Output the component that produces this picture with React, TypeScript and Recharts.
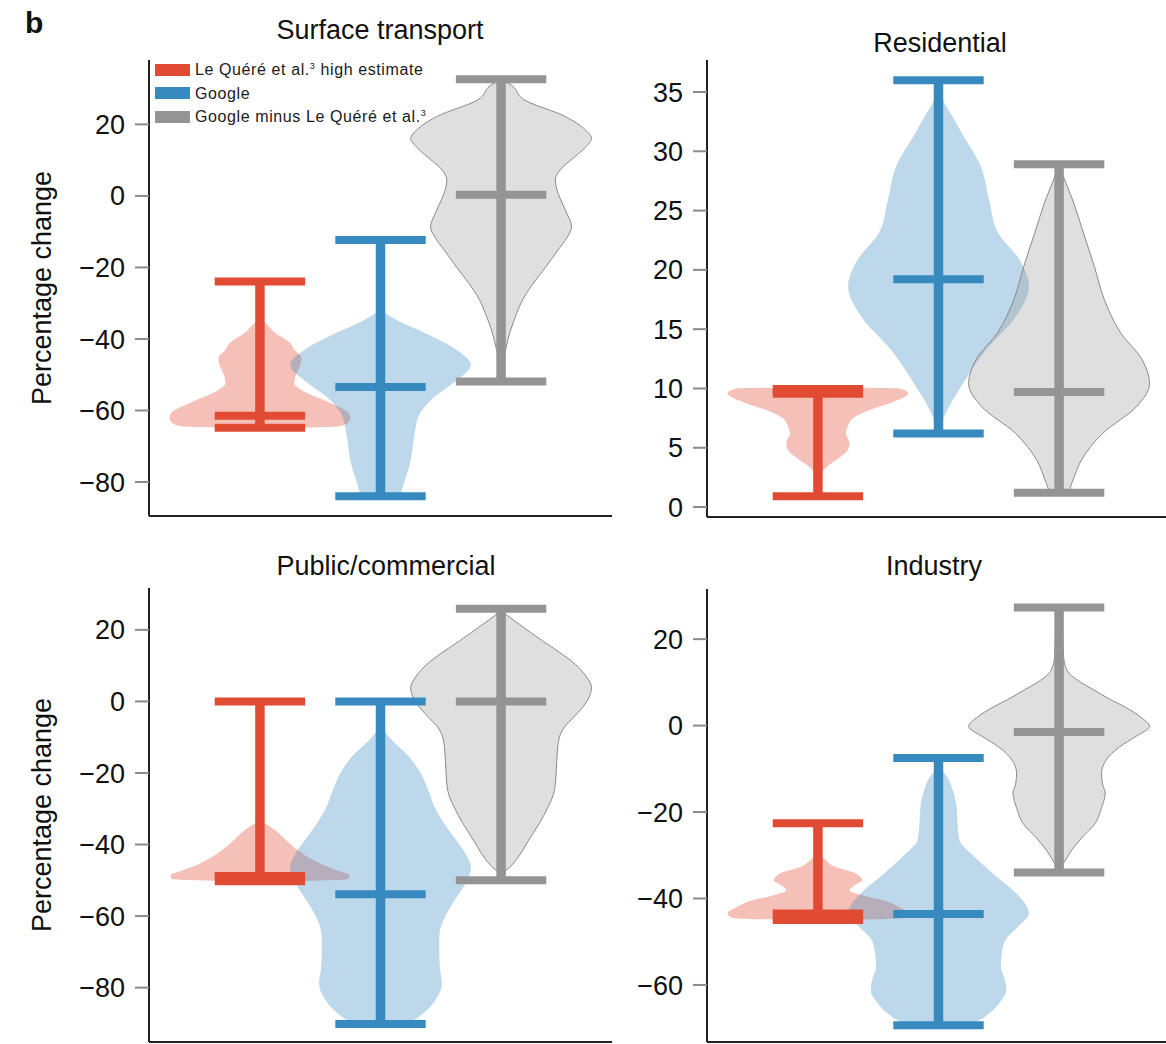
import { ComposedChart, Area, XAxis, YAxis, ReferenceLine } from "recharts"

const FONT = '"Liberation Sans", Arial, Helvetica, sans-serif'

const panelTitles = ["Surface transport", "Residential", "Public/commercial", "Industry"]
const legendLabels = ["Le Quéré et al.", "Google", "Google minus Le Quéré et al."]

const COLORS = ["#e14b34", "#378abf", "#949494"]
const FILL_OPACITY = [0.35, 0.33, 0.3]

const surfaceTicks = [-80, -60, -40, -20, 0, 20]
const residentialTicks = [0, 5, 10, 15, 20, 25, 30, 35]
const publicTicks = [-80, -60, -40, -20, 0, 20]
const industryTicks = [-60, -40, -20, 0, 20]

// violin outlines: [percentage change, relative density]
const surfaceLeQuere: [number, number][] = [
  [-34, 0], [-36, 0.08], [-38.3, 0.17], [-41, 0.33], [-43, 0.38], [-45.3, 0.46], [-47.7, 0.44],
  [-50, 0.4], [-52.3, 0.38], [-55, 0.51], [-57.8, 0.77], [-60.6, 0.98], [-62, 1.0], [-63.5, 0.97],
  [-64.5, 0.85], [-65, 0],
]
const surfaceGoogle: [number, number][] = [
  [-31.8, 0], [-35.1, 0.21], [-38.3, 0.49], [-43, 0.84], [-47.2, 1.0], [-52.2, 0.81], [-57, 0.56],
  [-61.7, 0.42], [-66.2, 0.38], [-75.5, 0.32], [-80.2, 0.26], [-84, 0.21], [-84.4, 0],
]
const surfaceDiff: [number, number][] = [
  [32.2, 0], [31.5, 0.08], [26.8, 0.26], [22.2, 0.71], [18.5, 0.93], [16.1, 1.0], [13.5, 0.93],
  [11, 0.82], [7.5, 0.66], [4.5, 0.6], [1.5, 0.62], [-1.1, 0.66], [-5, 0.73], [-8.6, 0.78],
  [-12, 0.72], [-15.1, 0.63], [-20, 0.49], [-24.3, 0.36], [-29, 0.24], [-33.7, 0.16], [-38, 0.1],
  [-43, 0.05], [-51.4, 0],
]

const residentialLeQuere: [number, number][] = [
  [10.1, 0], [10.0, 0.9], [9.6, 1.0], [8.8, 0.81], [8.2, 0.58], [7.5, 0.39], [6.8, 0.33], [6.2, 0.31],
  [5.4, 0.35], [4.8, 0.33], [4.0, 0.21], [3.4, 0.1], [2.5, 0],
]
const residentialGoogle: [number, number][] = [
  [35.6, 0], [34, 0.07], [33, 0.15], [31.5, 0.26], [28.7, 0.47], [25.9, 0.56], [23.1, 0.66],
  [20.8, 0.9], [18.6, 1.0], [16.0, 0.85], [13.2, 0.52], [10.4, 0.27], [7.6, 0.06], [6.4, 0],
]
const residentialDiff: [number, number][] = [
  [28.9, 0], [28, 0.04], [25.9, 0.15], [23.1, 0.27], [20.3, 0.39], [17.5, 0.5], [14.7, 0.68],
  [12.4, 0.92], [10.4, 1.0], [8.5, 0.86], [6.2, 0.48], [4.0, 0.25], [2.0, 0.14], [1.3, 0.1], [1.1, 0],
]

const publicLeQuere: [number, number][] = [
  [-33.3, 0], [-36, 0.17], [-38.8, 0.29], [-41.2, 0.4], [-43.5, 0.53], [-45.5, 0.68], [-47.2, 0.85],
  [-48.6, 0.99], [-49.7, 0.97], [-50.4, 0],
]
const publicGoogle: [number, number][] = [
  [-7.2, 0], [-10.9, 0.13], [-15, 0.3], [-20.3, 0.45], [-25, 0.53], [-29.6, 0.6], [-34, 0.7],
  [-38.9, 0.84], [-43, 0.95], [-46.3, 1.0], [-50, 0.96], [-53.7, 0.87], [-58, 0.76], [-62.1, 0.68],
  [-66, 0.65], [-71.4, 0.65], [-75, 0.66], [-78.8, 0.68], [-83, 0.62], [-87.2, 0.47], [-89.5, 0.32],
  [-90.3, 0],
]
const publicDiff: [number, number][] = [
  [25.6, 0], [24, 0.07], [21.6, 0.2], [16.9, 0.46], [13.5, 0.66], [10.4, 0.82], [7, 0.94], [3.9, 1.0],
  [1, 0.97], [-1.7, 0.9], [-4.5, 0.8], [-7.2, 0.7], [-10.5, 0.64], [-14.7, 0.62], [-19.5, 0.61],
  [-24.9, 0.59], [-29.5, 0.52], [-34.2, 0.42], [-39, 0.3], [-43.5, 0.19], [-46.5, 0.09], [-48.3, 0],
]

const industryLeQuere: [number, number][] = [
  [-29.2, 0], [-31, 0.08], [-32.6, 0.18], [-34.2, 0.42], [-35.8, 0.49], [-37, 0.4], [-38.1, 0.35],
  [-39.3, 0.5], [-40.4, 0.72], [-42, 0.9], [-43.4, 1.0], [-44.5, 0.95], [-45.1, 0],
]
const industryGoogle: [number, number][] = [
  [-9.5, 0], [-12, 0.1], [-15, 0.16], [-18.7, 0.2], [-22.5, 0.21], [-26.4, 0.23], [-30, 0.38],
  [-34.2, 0.6], [-38.8, 0.86], [-43.4, 1.0], [-46.5, 0.88], [-49.6, 0.74], [-52.7, 0.7], [-55.8, 0.69],
  [-58.5, 0.73], [-61.2, 0.75], [-64, 0.68], [-66.6, 0.56], [-68.5, 0.4], [-69.4, 0],
]
const industryDiff: [number, number][] = [
  [27, 0], [25, 0.03], [20, 0.04], [16, 0.05], [13.7, 0.07], [12.1, 0.11], [10, 0.24], [8.3, 0.38],
  [6, 0.57], [4.4, 0.72], [2, 0.9], [-0.2, 1.0], [-2.5, 0.85], [-4.9, 0.67], [-8, 0.52], [-11, 0.47],
  [-13.5, 0.48], [-15.6, 0.51], [-19, 0.47], [-22.6, 0.4], [-26, 0.25], [-28.8, 0.14], [-31.5, 0.06],
  [-33.5, 0],
]

// whiskers: [min, median, max]
const surfaceWhiskers = [[-64.8, -61.5, -23.9], [-84.0, -53.4, -12.3], [-51.9, 0.3, 32.6]]
const residentialWhiskers = [[0.9, 9.55, 9.96], [6.2, 19.2, 36.0], [1.2, 9.7, 28.9]]
const publicWhiskers = [[-50.3, -48.8, 0], [-90.2, -53.9, 0], [-50, 0, 25.9]]
const industryWhiskers = [[-45.0, -43.5, -22.6], [-69.3, -43.6, -7.5], [-34.0, -1.5, 27.3]]

const HALF_WIDTH = 0.75
const CAP_HALF = 0.375
const X_DOMAIN: [number, number] = [0.08, 3.92]
const CHART_W = 612

const panels = [
  { title: panelTitles[0], violins: [surfaceLeQuere, surfaceGoogle, surfaceDiff], whiskers: surfaceWhiskers, ticks: surfaceTicks, domain: [-89.5, 38], left: 0, top: 0, height: 530, mt: 60, mb: 13, yLabel: true, tx: 380, ty: 39 },
  { title: panelTitles[1], violins: [residentialLeQuere, residentialGoogle, residentialDiff], whiskers: residentialWhiskers, ticks: residentialTicks, domain: [-0.84, 37.7], left: 558, top: 0, height: 530, mt: 60, mb: 12, yLabel: false, tx: 940, ty: 52 },
  { title: panelTitles[2], violins: [publicLeQuere, publicGoogle, publicDiff], whiskers: publicWhiskers, ticks: publicTicks, domain: [-95.2, 31.7], left: 0, top: 530, height: 514, mt: 58, mb: 1, yLabel: true, tx: 386, ty: 575 },
  { title: panelTitles[3], violins: [industryLeQuere, industryGoogle, industryDiff], whiskers: industryWhiskers, ticks: industryTicks, domain: [-73.2, 31.6], left: 558, top: 530, height: 514, mt: 59, mb: 1, yLabel: false, tx: 934, ty: 575 },
]

const fmt = (v: number) => (v < 0 ? `\u2212${Math.abs(v)}` : `${v}`)

const toViolin = (pts: [number, number][], center: number) =>
  pts.map(([v, d]) => ({ v, span: [center - d * HALF_WIDTH, center + d * HALF_WIDTH] }))

function ViolinPanel({ p }: { p: any }) {
  return (
    <div style={{ position: "absolute", left: p.left, top: p.top }}>
      <ComposedChart
        layout="vertical"
        width={CHART_W}
        height={p.height}
        margin={{ top: p.mt, right: 0, bottom: p.mb, left: 0 }}
      >
        <XAxis
          type="number"
          domain={X_DOMAIN}
          allowDataOverflow
          tick={false}
          tickLine={false}
          height={1}
          axisLine={{ stroke: "#222", strokeWidth: 2 }}
        />
        <YAxis
          type="number"
          dataKey="v"
          reversed
          domain={p.domain}
          allowDataOverflow
          ticks={p.ticks}
          interval={0}
          width={149}
          tickSize={14}
          tickMargin={10}
          tickFormatter={fmt}
          tickLine={{ stroke: "#8a8a8a", strokeWidth: 2 }}
          axisLine={{ stroke: "#222", strokeWidth: 2 }}
          tick={{ fontSize: 27, fill: "#111", fontFamily: FONT }}
        />
        {p.violins.map((pts: [number, number][], i: number) => (
          <Area
            key={`violin-${i}`}
            data={toViolin(pts, i + 1)}
            dataKey="span"
            type="monotone"
            fill={COLORS[i]}
            fillOpacity={FILL_OPACITY[i]}
            stroke={i === 2 ? "#8a8a8a" : "none"}
            strokeWidth={1}
            dot={false}
            activeDot={false}
            isAnimationActive={false}
          />
        ))}
        {p.whiskers.map(([lo, med, hi]: number[], i: number) => {
          const c = i + 1
          return [
            <ReferenceLine key={`stem-${i}`} segment={[{ x: c, y: lo }, { x: c, y: hi }]} stroke={COLORS[i]} strokeWidth={9.5} />,
            ...[lo, med, hi].map((y, j) => (
              <ReferenceLine
                key={`cap-${i}-${j}`}
                segment={[{ x: c - CAP_HALF, y }, { x: c + CAP_HALF, y }]}
                stroke={COLORS[i]}
                strokeWidth={8}
              />
            )),
          ]
        })}
      </ComposedChart>
    </div>
  )
}

export default function App() {
  return (
    <div
      style={{
        position: "absolute",
        left: 0,
        top: 0,
        width: 1166,
        height: 1044,
        overflow: "hidden",
        background: "#fff",
        fontFamily: FONT,
      }}
    >
      {panels.map((p, idx) => (
        <ViolinPanel key={idx} p={p} />
      ))}

      <div style={{ position: "absolute", left: 155, top: 58, fontSize: 16, letterSpacing: 0.6, color: "#1a1a1a", lineHeight: "23.5px" }}>
        {legendLabels.map((label, i) => (
          <div key={label} style={{ display: "flex", alignItems: "center", whiteSpace: "nowrap" }}>
            <span style={{ display: "inline-block", width: 35, height: 12, background: COLORS[i], marginRight: 5 }} />
            <span>
              {label}
              {i !== 1 && <sup style={{ fontSize: 9, lineHeight: 0 }}>3</sup>}
              {i === 0 && " high estimate"}
            </span>
          </div>
        ))}
      </div>

      <svg width={1166} height={1044} style={{ position: "absolute", left: 0, top: 0, pointerEvents: "none" }}>
        <text x={25} y={33} fontSize={30} fontWeight="bold" fill="#111">b</text>
        {panels.map((p, idx) => (
          <text key={`t-${idx}`} x={p.tx} y={p.ty} textAnchor="middle" fontSize={27} fill="#111">
            {p.title}
          </text>
        ))}
        {panels
          .filter((p) => p.yLabel)
          .map((p, idx) => {
            const cy = p.top + p.mt + (p.height - p.mt - p.mb - 1) / 2
            return (
              <text key={`yl-${idx}`} x={51} y={cy} textAnchor="middle" fontSize={27} fill="#111" transform={`rotate(-90, 51, ${cy})`}>
                Percentage change
              </text>
            )
          })}
      </svg>
    </div>
  )
}
